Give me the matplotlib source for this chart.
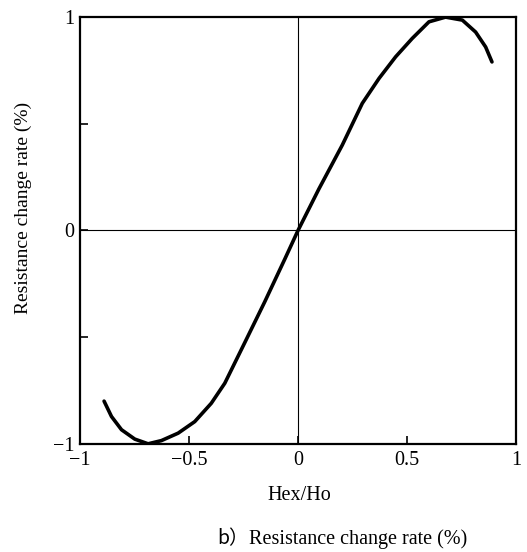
import numpy as np
import matplotlib
matplotlib.use("Agg")
import matplotlib.pyplot as plt

# curve
hex_ho = [-0.890, -0.856, -0.810, -0.749, -0.688, -0.627, -0.550, -0.474, -0.398,
          -0.336, -0.244, -0.153, -0.061, 0.0, 0.096, 0.203, 0.295, 0.372,
          0.448, 0.524, 0.601, 0.677, 0.754, 0.815, 0.861, 0.890]
rate = [-0.800, -0.872, -0.934, -0.978, -1.000, -0.985, -0.950, -0.896, -0.810,
        -0.716, -0.525, -0.335, -0.135, 0.0, 0.195, 0.400, 0.596, 0.713,
        0.814, 0.900, 0.978, 1.000, 0.986, 0.930, 0.860, 0.790]

xticks = [-1, -0.5, 0, 0.5, 1]
xticklabels = ["\u22121", "\u22120.5", "0", "0.5", "1"]
yticks = [-1, 0, 1]
yticklabels = ["\u22121", "0", "1"]

serif = "Liberation Serif"

fig = plt.figure(figsize=(5.27, 5.52), dpi=100)
ax = fig.add_axes([0.152, 0.196, 0.827, 0.773])

ax.axhline(0, color="black", lw=0.8)
ax.axvline(0, color="black", lw=0.8)
ax.plot(hex_ho, rate, color="black", lw=2.6, solid_capstyle="round",
        solid_joinstyle="round")

ax.set_xlim(-1, 1)
ax.set_ylim(-1, 1)
ax.set_xticks(xticks)
ax.set_xticklabels(xticklabels, fontfamily=serif, fontsize=14.5)
ax.set_yticks(yticks)
ax.set_yticklabels(yticklabels, fontfamily=serif, fontsize=14.5)
ax.set_yticks([-0.5, 0.5], minor=True)
ax.tick_params(axis="x", direction="in", length=6, width=1.2, pad=5)
ax.tick_params(axis="y", direction="in", length=6, width=1.2, pad=4)
ax.tick_params(which="minor", direction="in", length=6, width=1.2)
for s in ax.spines.values():
    s.set_linewidth(1.6)

ax.set_xlabel("Hex/Ho", fontfamily=serif, fontsize=14.5, va="center")
ax.xaxis.set_label_coords(0.503, -0.122)
ax.set_ylabel("Resistance change rate (%)", fontfamily=serif, fontsize=14, va="center")
ax.yaxis.set_label_coords(-0.131, 0.553)

fig.text(0.413, 0.0236, "b\uff09", fontfamily="Noto Sans CJK SC", fontsize=14,
         ha="left", va="center")
fig.text(0.472, 0.0236, "Resistance change rate (%)", fontfamily=serif, fontsize=14.5,
         ha="left", va="center")

fig.savefig("out.png", dpi=100)
